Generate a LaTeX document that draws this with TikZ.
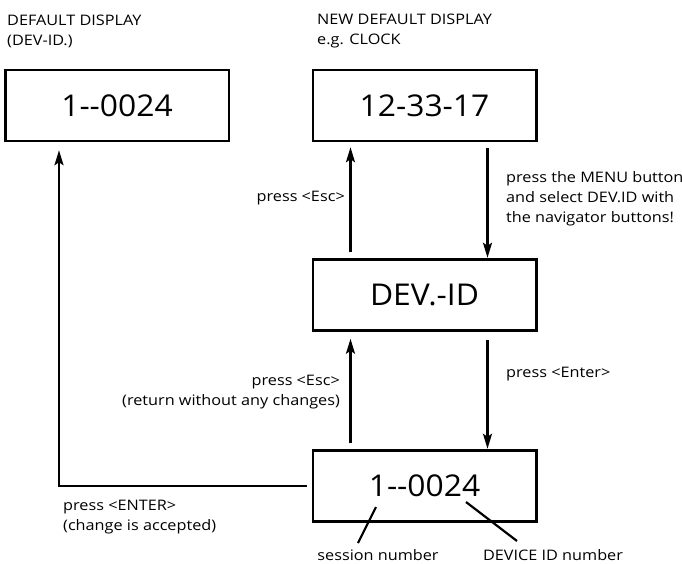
\documentclass[tikz,border=0pt]{standalone}
\usepackage{fontspec}
\setmainfont{Open Sans}[FakeStretch=1.12]
\newfontfamily\boxfont{Open Sans}[FakeStretch=1.06]
\usetikzlibrary{arrows.meta}
\begin{document}
\begin{tikzpicture}[x=1pt,y=-1pt,
  disp/.style={draw, line width=2.5pt, minimum width=223.5pt, minimum height=71pt, inner sep=0pt, font=\boxfont\fontsize{30}{36}\selectfont},
  lbl/.style={inner sep=0pt, font=\fontsize{14.5}{20}\selectfont},
  arr/.style={line width=2.2pt, -{Stealth[length=15pt,width=9pt,inset=3pt]}},
  lead/.style={line width=2.2pt}]
\useasboundingbox (0,0) rectangle (682,563);
\node[disp] (b1) at (117,105.5) {1-{}-0024};
\node[disp] (b2) at (424.5,105.5) {12-33-17};
\node[disp] (b3) at (424.5,295) {DEV.-ID};
\node[disp] (b4) at (424.5,486) {1-{}-0024};
\draw[arr, shorten <=6pt, shorten >=5pt] ([xshift=39pt]b3.north west) -- ([xshift=39pt]b2.south west);
\draw[arr, shorten <=6pt, shorten >=0.5pt] ([xshift=176pt]b2.south west) -- ([xshift=176pt]b3.north west);
\draw[arr, shorten <=6pt, shorten >=7pt] ([xshift=39pt]b4.north west) -- ([xshift=39pt]b3.south west);
\draw[arr, shorten <=8pt, shorten >=0.5pt] ([xshift=176pt]b3.south west) -- ([xshift=176pt]b4.north west);
\draw[arr, shorten <=5pt, shorten >=8pt] (b4.west) -| ([xshift=-58pt]b1.south);
\node[lbl, anchor=west, align=left] (t1) at (7,31) {DEFAULT DISPLAY\\(DEV-ID.)};
\node[lbl, anchor=west, align=left] (t2) at (317,31) {NEW DEFAULT DISPLAY\\e.g. CLOCK};
\node[lbl, anchor=east] (l1) at (345,198) {press <Esc>};
\node[lbl, anchor=west, align=left] (l2) at (506,199) {press the MENU button\\and select DEV.ID with\\the navigator buttons!};
\node[lbl, anchor=west] (l3) at (506,374) {press <Enter>};
\node[lbl, anchor=east, align=right] (l4) at (340,392.5) {press <Esc>\\(return without any changes)};
\node[lbl, anchor=west, align=left] (l5) at (63,517.5) {press <ENTER>\\(change is accepted)};
\node[lbl] (s1) at (378,555) {session number};
\node[lbl] (s2) at (553,555) {DEVICE ID number};
\coordinate (p1) at (376,507);
\coordinate (p2) at (358,543);
\coordinate (q1) at (466,502);
\coordinate (q2) at (517,541);
\draw[lead] (p1) -- (p2);
\draw[lead] (q1) -- (q2);
\end{tikzpicture}
\end{document}
